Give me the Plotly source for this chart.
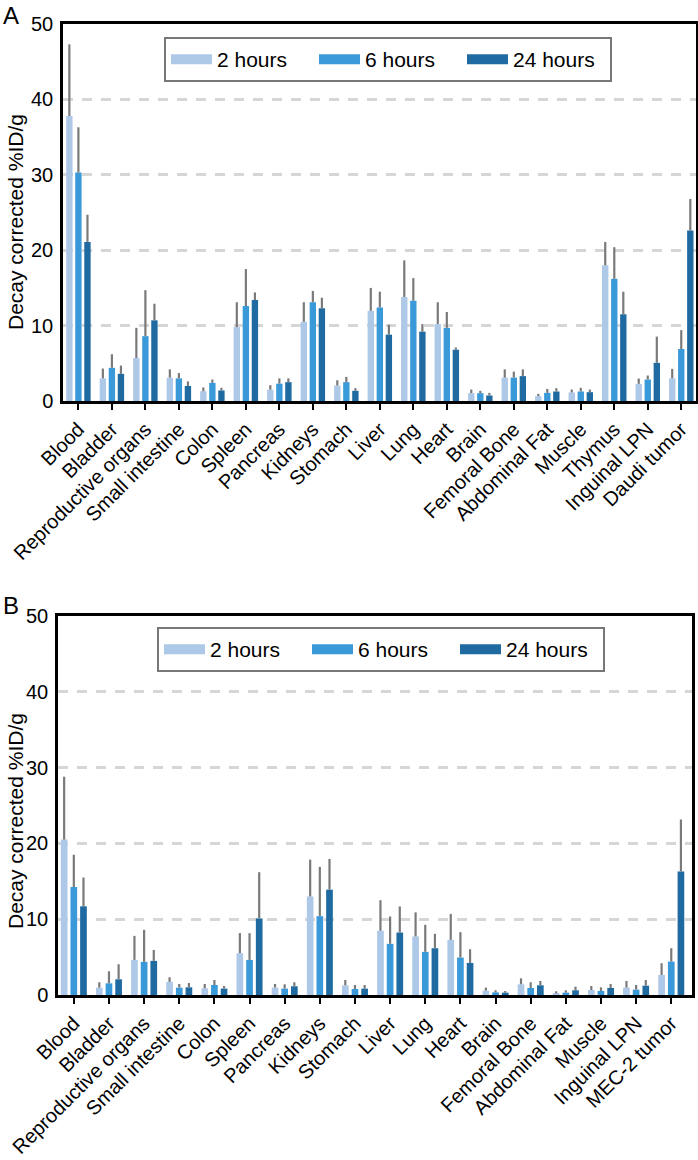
import plotly.graph_objects as go

# ---------------- data ----------------
series_names = ["2 hours", "6 hours", "24 hours"]
colors = ["#aec8e8", "#3a9ad9", "#1f6aa0"]

organs_a = ["Blood", "Bladder", "Reproductive organs", "Small intestine", "Colon",
            "Spleen", "Pancreas", "Kidneys", "Stomach", "Liver", "Lung", "Heart",
            "Brain", "Femoral Bone", "Abdominal Fat", "Muscle", "Thymus",
            "Inguinal LPN", "Daudi tumor"]
a_2h = [37.8, 3.0, 5.7, 3.1, 1.3, 9.8, 1.5, 10.5, 2.05, 11.95, 13.8, 10.2, 1.04, 3.1, 0.64, 1.13, 18.0, 2.27, 3.0]
a_6h = [30.3, 4.4, 8.6, 3.0, 2.4, 12.6, 2.3, 13.1, 2.5, 12.4, 13.3, 9.7, 1.04, 3.1, 1.08, 1.26, 16.2, 2.85, 6.9]
a_24h = [21.1, 3.6, 10.7, 2.0, 1.4, 13.4, 2.5, 12.3, 1.35, 8.8, 9.2, 6.8, 0.73, 3.3, 1.26, 1.17, 11.5, 5.06, 22.6]
a_2h_sd = [9.5, 1.3, 4.0, 1.1, 0.5, 3.3, 0.6, 2.6, 0.7, 3.05, 4.85, 2.9, 0.48, 1.1, 0.31, 0.39, 3.1, 0.71, 1.26]
a_6h_sd = [6.0, 1.8, 6.1, 0.7, 0.45, 4.9, 0.7, 1.5, 0.7, 2.1, 3.0, 2.1, 0.31, 0.8, 0.52, 0.48, 4.2, 0.53, 2.5]
a_24h_sd = [3.6, 1.1, 2.2, 0.6, 0.35, 1.0, 0.5, 1.4, 0.35, 1.3, 1.0, 0.3, 0.35, 0.9, 0.44, 0.35, 3.0, 3.48, 4.2]

organs_b = ["Blood", "Bladder", "Reproductive organs", "Small intestine", "Colon",
            "Spleen", "Pancreas", "Kidneys", "Stomach", "Liver", "Lung", "Heart",
            "Brain", "Femoral Bone", "Abdominal Fat", "Muscle", "Inguinal LPN",
            "MEC-2 tumor"]
b_2h = [20.5, 0.97, 4.63, 1.72, 0.88, 5.51, 0.97, 13.0, 1.28, 8.47, 7.72, 7.28, 0.57, 1.41, 0.22, 0.66, 0.97, 2.65]
b_6h = [14.25, 1.54, 4.37, 0.97, 1.32, 4.63, 0.84, 10.4, 0.79, 6.75, 5.69, 4.94, 0.35, 0.93, 0.31, 0.53, 0.71, 4.41]
b_24h = [11.7, 2.07, 4.5, 1.01, 0.84, 10.1, 1.15, 13.9, 0.84, 8.24, 6.17, 4.23, 0.31, 1.28, 0.62, 0.93, 1.23, 16.3]
b_2h_sd = [8.3, 0.71, 3.17, 0.62, 0.58, 2.65, 0.49, 4.86, 0.7, 4.03, 3.18, 3.42, 0.4, 0.79, 0.27, 0.53, 0.88, 1.54]
b_6h_sd = [4.25, 1.59, 4.23, 0.49, 0.66, 3.53, 0.57, 6.5, 0.53, 3.61, 3.57, 3.35, 0.27, 0.75, 0.31, 0.48, 0.61, 1.76]
b_24h_sd = [3.8, 1.99, 1.45, 0.58, 0.35, 6.1, 0.53, 4.05, 0.48, 3.44, 1.9, 1.81, 0.22, 0.57, 0.48, 0.53, 0.75, 6.85]

y_ticks = [0, 10, 20, 30, 40, 50]
y_title = "Decay corrected %ID/g"
panel_labels = ["A", "B"]

# ---------------- figure ----------------
W, H = 698, 1160
FONT = "Liberation Sans, Arial, Helvetica, sans-serif"

fig = go.Figure()

# bar slot spacing / bar width (in category units) per panel
panels = [
    (organs_a, [a_2h, a_6h, a_24h], [a_2h_sd, a_6h_sd, a_24h_sd], "x", "y", "legend", 0.27, 0.19),
    (organs_b, [b_2h, b_6h, b_24h], [b_2h_sd, b_6h_sd, b_24h_sd], "x2", "y2", "legend2", 0.275, 0.19),
]

for cats, vals, sds, xa, ya, lg, slot, bw in panels:
    for k, (name, col, v, sd) in enumerate(zip(series_names, colors, vals, sds)):
        fig.add_trace(go.Bar(
            x=cats, y=v, name=name, marker=dict(color=col, line=dict(width=0)),
            width=bw, offset=(k - 1) * slot - bw / 2,
            error_y=dict(type="data", symmetric=False, array=sd,
                         arrayminus=[0] * len(sd), color="#7a7a7a",
                         thickness=2.2, width=0),
            xaxis=xa, yaxis=ya, showlegend=False, legend=lg,
        ))
    # legend swatches (wide rectangles like the original legend)
    for name, col in zip(series_names, colors):
        fig.add_trace(go.Scatter(
            x=[None], y=[None], mode="lines", name=name,
            line=dict(color=col, width=12), xaxis=xa, yaxis=ya,
            legend=lg, showlegend=True,
        ))


def px_x(p):
    return p / W


def px_y(p):
    return 1 - p / H


axis_common_x = dict(
    type="category", showline=True, linecolor="black", linewidth=2.5, mirror=True,
    ticks="outside", ticklen=6, tickwidth=2, tickcolor="black", tickangle=-45,
    tickfont=dict(family=FONT, size=20, color="black"), showgrid=False,
    zeroline=False, automargin=False,
)
axis_common_y = dict(
    range=[0, 50], tickvals=y_ticks, showline=True, linecolor="black",
    linewidth=2.5, mirror=True, ticks="", ticklabelstandoff=3,
    tickfont=dict(family=FONT, size=20, color="black"),
    showgrid=True, gridcolor="#d6d6d6", gridwidth=3, griddash="10px,9px",
    zeroline=False, automargin=False,
)

legend_common = dict(
    orientation="h", xanchor="left", yanchor="top", bordercolor="#777777",
    borderwidth=2, bgcolor="white", font=dict(family=FONT, size=21, color="black"),
    entrywidth=92, entrywidthmode="pixels", itemwidth=41,
)

fig.update_layout(
    width=W, height=H,
    margin=dict(l=0, r=0, t=0, b=0),
    paper_bgcolor="white", plot_bgcolor="white",
    barmode="overlay",
    font=dict(family=FONT, color="black"),
    xaxis=dict(axis_common_x, domain=[px_x(63), px_x(696)], anchor="y",
               range=[-0.46, 18.44]),
    yaxis=dict(axis_common_y, domain=[px_y(401), px_y(24)], anchor="x"),
    xaxis2=dict(axis_common_x, domain=[px_x(58), px_x(692)], anchor="y2",
                range=[-0.45, 17.59]),
    yaxis2=dict(axis_common_y, domain=[px_y(995), px_y(616)], anchor="x2"),
    legend=dict(legend_common, x=px_x(164), y=px_y(37)),
    legend2=dict(legend_common, x=px_x(157), y=px_y(627)),
    annotations=[
        dict(text=panel_labels[0], x=px_x(1), y=px_y(0), xref="paper", yref="paper",
             xanchor="left", yanchor="top", showarrow=False,
             font=dict(family=FONT, size=24)),
        dict(text=panel_labels[1], x=px_x(1), y=px_y(590), xref="paper", yref="paper",
             xanchor="left", yanchor="top", showarrow=False,
             font=dict(family=FONT, size=24)),
        dict(text=y_title, x=px_x(15), y=px_y(222), xref="paper", yref="paper",
             xanchor="center", yanchor="middle", textangle=-90, showarrow=False,
             font=dict(family=FONT, size=21)),
        dict(text=y_title, x=px_x(15), y=px_y(821), xref="paper", yref="paper",
             xanchor="center", yanchor="middle", textangle=-90, showarrow=False,
             font=dict(family=FONT, size=21)),
    ],
)

fig.write_html(
    "out.html",
    config={"displayModeBar": False},
    post_script="document.body.style.margin='0';document.body.style.overflow='hidden';",
)
